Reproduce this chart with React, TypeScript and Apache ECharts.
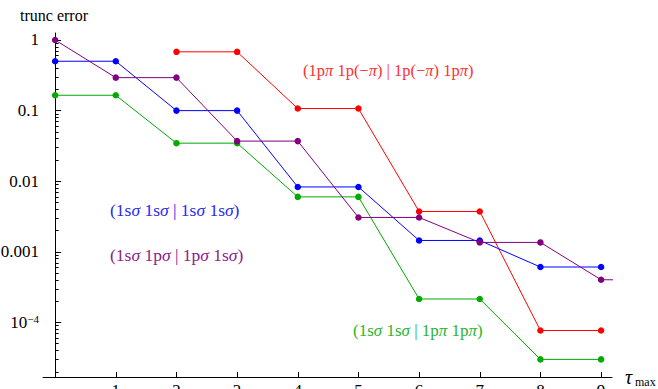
import { useEffect, useRef } from "react";
import * as echarts from "echarts";

const taus = [0, 1, 2, 3, 4, 5, 6, 7, 8, 9];
const blueVals = [0.5, 0.5, 0.1, 0.1, 0.0083, 0.0083, 0.00145, 0.00145, 0.00061, 0.00061];
const purpleTaus = [0, 1, 2, 3, 4, 5, 6, 7, 8, 9, 10];
const purpleVals = [1.0, 0.293, 0.293, 0.037, 0.037, 0.00307, 0.00307, 0.00136, 0.00136, 0.000403, 0.000398];
const greenVals = [0.165, 0.165, 0.0346, 0.0346, 0.006, 0.006, 0.000215, 0.000215, 0.00003, 0.00003];
const redTaus = [2, 3, 4, 5, 6, 7, 8, 9];
const redVals = [0.68, 0.68, 0.107, 0.107, 0.00373, 0.00373, 0.000077, 0.000077];

const xTickValues = [1, 2, 3, 4, 5, 6, 7, 8, 9];
const yTickValues = [0.0001, 0.001, 0.01, 0.1, 1];
const yTickLabels = ["{b|10}{s|−4}", "0.001", "0.01", "0.1", "1"];
const minorMultipliers = [2, 3, 4, 5, 6, 7, 8, 9];
const minorDecades = [1e-5, 1e-4, 1e-3, 1e-2, 1e-1];

const FONT = "'Liberation Serif', 'Times New Roman', serif";

const pairs = (xs: number[], ys: number[]) => xs.map((x, i) => [x, ys[i]]);

export default function App() {
  const ref = useRef<HTMLDivElement>(null);
  useEffect(() => {
    if (!ref.current) return;
    const chart = echarts.init(ref.current, undefined, { renderer: "svg" });
    const minorTicks: number[] = [];
    minorDecades.forEach((d) => minorMultipliers.forEach((m) => minorTicks.push(m * d)));

    const mkSeries = (name: string, data: number[][], color: string) => ({
      name,
      type: "line",
      data,
      symbol: "circle",
      symbolSize: 6.5,
      clip: true,
      itemStyle: { color },
      lineStyle: { color, width: 1 },
      emphasis: { disabled: true },
    });

    const labelText = (text: string, x: number, y: number, color: string, size: number) => ({
      type: "text",
      x,
      y,
      style: {
        text,
        fill: color,
        font: `${size}px ${FONT}`,
        verticalAlign: "middle",
        align: "left",
        rich: {
          i: { fontStyle: "italic", fontFamily: FONT, fontSize: size, fill: color },
        },
      },
    });

    chart.setOption({
      animation: false,
      grid: { left: 43, right: 46, top: 33, bottom: 12, containLabel: false, outerBoundsMode: "none" },
      xAxis: {
        type: "value",
        min: -0.2,
        max: 9.18,
        axisLine: { show: true, lineStyle: { color: "#000", width: 1 } },
        axisTick: { show: true, inside: true, length: 5, customValues: xTickValues, lineStyle: { color: "#000" } },
        axisLabel: {
          show: true,
          customValues: xTickValues,
          color: "#000",
          fontFamily: FONT,
          fontSize: 17,
          margin: 5,
        },
        splitLine: { show: false },
      },
      yAxis: [
        {
          type: "log",
          logBase: 10,
          min: 1.69e-5,
          max: 1.256,
          position: "left",
          axisLine: { show: true, onZero: true, onZeroAxisIndex: 0, lineStyle: { color: "#000", width: 1 } },
          axisTick: { show: true, inside: true, length: 6, customValues: yTickValues, lineStyle: { color: "#000" } },
          axisLabel: {
            show: true,
            customValues: yTickValues,
            color: "#000",
            fontFamily: FONT,
            fontSize: 17,
            margin: 4,
            formatter: (v: number) => {
              let best = 0;
              yTickValues.forEach((t, i) => {
                if (Math.abs(Math.log10(t) - Math.log10(v)) < Math.abs(Math.log10(yTickValues[best]) - Math.log10(v))) best = i;
              });
              return yTickLabels[best];
            },
            rich: {
              b: { fontFamily: FONT, fontSize: 17, color: "#000", verticalAlign: "bottom" },
              s: { fontFamily: FONT, fontSize: 11, color: "#000", verticalAlign: "top" },
            },
          },
          splitLine: { show: false },
        },
        {
          type: "log",
          logBase: 10,
          min: 1.69e-5,
          max: 1.256,
          position: "left",
          axisLine: { show: false, onZero: true, onZeroAxisIndex: 0 },
          axisTick: { show: true, inside: true, length: 3.5, customValues: minorTicks, lineStyle: { color: "#000" } },
          axisLabel: { show: false },
          splitLine: { show: false },
        },
      ],
      series: [
        mkSeries("red", pairs(redTaus, redVals), "#ff0000"),
        mkSeries("blue", pairs(taus, blueVals), "#0000ff"),
        mkSeries("green", pairs(taus, greenVals), "#00aa00"),
        mkSeries("purple", pairs(purpleTaus, purpleVals), "#800080"),
      ],
      graphic: [
        {
          type: "text",
          x: 20,
          y: 15,
          style: { text: "trunc error", fill: "#000", font: `16px ${FONT}`, verticalAlign: "middle", align: "left" },
        },
        {
          type: "text",
          x: 625,
          y: 377,
          style: { text: "τ", fill: "#000", font: `italic 20px ${FONT}`, verticalAlign: "middle", align: "left" },
        },
        {
          type: "text",
          x: 635,
          y: 382,
          style: { text: "max", fill: "#000", font: `12px ${FONT}`, verticalAlign: "middle", align: "left" },
        },
        labelText("(1p{i|π} 1p(−{i|π}) | 1p(−{i|π}) 1p{i|π})", 303, 70, "#ff3030", 16.5),
        labelText("(1s{i|σ} 1s{i|σ} | 1s{i|σ} 1s{i|σ})", 110, 210, "#2a2aee", 17.5),
        labelText("(1s{i|σ} 1p{i|σ} | 1p{i|σ} 1s{i|σ})", 110, 255, "#8b1c8b", 17.5),
        labelText("(1s{i|σ} 1s{i|σ} | 1p{i|π} 1p{i|π})", 353, 330, "#2db42d", 17),
      ],
    });
    return () => chart.dispose();
  }, []);
  return <div ref={ref} style={{ position: "absolute", left: 0, top: 0, width: 658, height: 389 }} />;
}
